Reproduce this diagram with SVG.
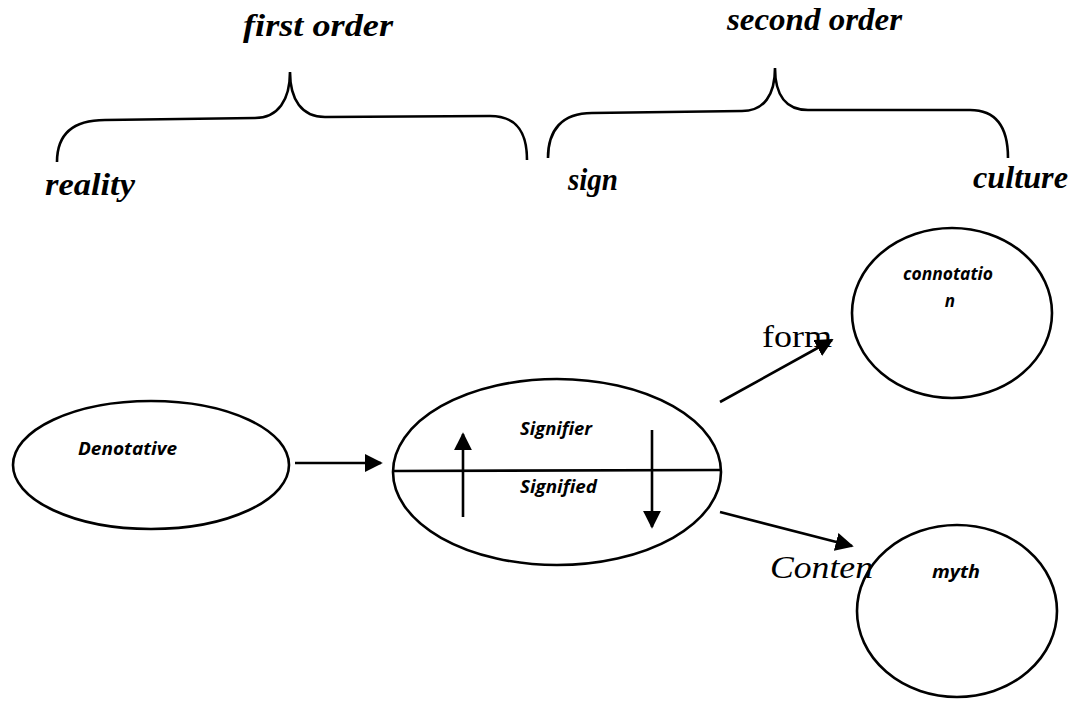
<svg xmlns="http://www.w3.org/2000/svg" width="1073" height="702" viewBox="0 0 1073 702">
  <defs>
    <marker id="head" viewBox="0 0 10 10" refX="9" refY="5" markerWidth="7" markerHeight="7" markerUnits="strokeWidth" orient="auto">
      <path d="M0,0 L10,5 L0,10 Z" fill="#000"/>
    </marker>
    <style>
      .line { fill: none; stroke: #000; stroke-width: 2.6; }
      .shape { fill: none; stroke: #000; stroke-width: 2.6; }
      .title { font-family: "Liberation Serif", serif; font-style: italic; font-weight: bold; font-size: 31px; fill: #000; }
      .node { font-family: "Open Sans", "Liberation Sans", sans-serif; font-style: italic; font-weight: bold; font-size: 17px; fill: #000; }
      .edge { font-family: "Liberation Serif", serif; font-size: 32px; fill: #000; }
    </style>
  </defs>
  <rect width="1073" height="702" fill="#fff"/>

  <!-- orders and their braces -->
  <g id="first-order">
    <text class="title" x="243" y="36" textLength="150" lengthAdjust="spacingAndGlyphs">first order</text>
    <path class="line" d="M57,162 C57,135 72,120 105,120 L255,118 C278,118 290,100 290,72 C290,100 302,117 325,117 L490,116 C515,116 527,130 527,160"/>
    <text class="title" x="45" y="195" textLength="90" lengthAdjust="spacingAndGlyphs">reality</text>
  </g>
  <g id="second-order">
    <text class="title" x="727" y="30" textLength="175" lengthAdjust="spacingAndGlyphs">second order</text>
    <path class="line" d="M548,158 C548,130 562,113 592,113 L742,111 C764,111 775,95 775,68 C775,95 786,110 808,110 L970,110 C995,110 1008,125 1008,158"/>
    <text class="title" x="568" y="190" textLength="50" lengthAdjust="spacingAndGlyphs">sign</text>
    <text class="title" x="973" y="188" textLength="95" lengthAdjust="spacingAndGlyphs">culture</text>
  </g>

  <!-- nodes -->
  <g id="denotative">
    <ellipse class="shape" cx="151" cy="465" rx="138" ry="64"/>
    <text class="node" x="78" y="455" textLength="99" lengthAdjust="spacingAndGlyphs">Denotative</text>
  </g>
  <g id="sign-node">
    <ellipse class="shape" cx="557" cy="472" rx="164" ry="93"/>
    <line class="line" x1="393" y1="471" x2="721" y2="470"/>
    <text class="node" x="520" y="435" textLength="72" lengthAdjust="spacingAndGlyphs">Signifier</text>
    <text class="node" x="520" y="493" textLength="77" lengthAdjust="spacingAndGlyphs">Signified</text>
    <line class="line" x1="463" y1="517" x2="463" y2="434" marker-end="url(#head)"/>
    <line class="line" x1="652" y1="430" x2="652" y2="527" marker-end="url(#head)"/>
  </g>
  <g id="connotation">
    <ellipse class="shape" cx="952" cy="313" rx="100" ry="85"/>
    <text class="node" x="903" y="280" textLength="90" lengthAdjust="spacingAndGlyphs">connotatio</text>
    <text class="node" x="950" y="307" text-anchor="middle">n</text>
  </g>
  <g id="myth">
    <ellipse class="shape" cx="957" cy="611" rx="100" ry="86"/>
    <text class="node" x="932" y="578" textLength="48" lengthAdjust="spacingAndGlyphs">myth</text>
  </g>

  <!-- connectors -->
  <g id="connectors">
    <line class="line" x1="295" y1="463" x2="381" y2="463" marker-end="url(#head)"/>
    <line class="line" x1="720" y1="402" x2="832" y2="340" marker-end="url(#head)"/>
    <text class="edge" x="762" y="347" textLength="70" lengthAdjust="spacingAndGlyphs">form</text>
    <line class="line" x1="720" y1="512" x2="852" y2="546" marker-end="url(#head)"/>
    <text class="edge" x="770" y="578" font-style="italic" textLength="103" lengthAdjust="spacingAndGlyphs">Conten</text>
  </g>
</svg>
